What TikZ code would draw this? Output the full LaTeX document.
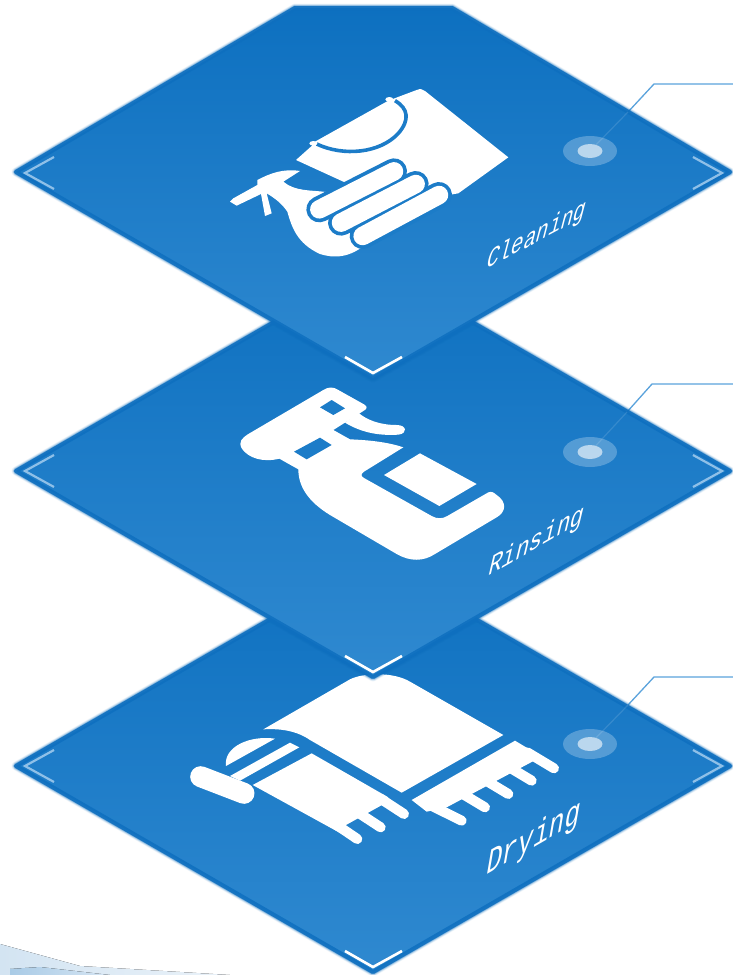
\documentclass[tikz,border=0pt]{standalone}
\usepackage{fontspec}
\usetikzlibrary{shapes.geometric}
\newfontfamily\labelfont{Liberation Mono}
\definecolor{plateTop}{HTML}{0D70C0}
\definecolor{plateBot}{HTML}{2F89D0}
\definecolor{edgeblue}{HTML}{0E6FBF}
\definecolor{iconblue}{HTML}{1C7CC8}
\definecolor{leader}{HTML}{5BA3DC}
\definecolor{chev}{HTML}{8FC0E8}
\definecolor{wedgeA}{HTML}{D3E4F2}
\definecolor{wedgeB}{HTML}{EAF2F9}
\definecolor{wedgeC}{HTML}{A9CBE6}
\definecolor{wedgeD}{HTML}{D5E5F3}
\tikzset{
  fadeedge/.style 2 args={preaction={draw=edgeblue,line join=round,line width=#1,draw opacity=#2}},
  plate/.style={top color=plateTop,bottom color=plateBot,line join=round,
    fadeedge={9pt}{.05},fadeedge={8pt}{.08},fadeedge={7pt}{.12},
    fadeedge={6pt}{.18},fadeedge={5pt}{.28},fadeedge={4pt}{.40},
    postaction={draw=edgeblue,line join=round,line width=4pt,draw opacity=.85}},
  sidechev/.style={draw=chev,line width=2.2pt},
  botchev/.style={draw=white,line width=2.6pt},
  halo/.style={ellipse,fill=white,fill opacity=.25,draw=none,minimum width=54pt,minimum height=30pt,inner sep=0pt},
  core/.style={ellipse,fill=white,fill opacity=.6,draw=none,minimum width=25pt,minimum height=14pt,inner sep=0pt},
  leadline/.style={draw=leader,line width=1.3pt},
  leadfaint/.style={draw=white,draw opacity=.12,line width=1.2pt},
  isotext/.style={transform shape,text=white,anchor=base west,inner sep=0pt,font=\labelfont\fontsize{20}{20}\selectfont},
  icon/.style={fill=white,draw=none},
  gap/.style={draw=iconblue,line cap=round},
  stick/.style={draw=white,line cap=round,line width=10pt},
  zoomed/.style={x=.33333pt,y=-.33333pt}
}
\begin{document}
\begin{tikzpicture}[x=1pt,y=-1pt]
\useasboundingbox (0,0) rectangle (733,975);
\clip (0,0) rectangle (733,975);
\fill[white] (0,0) rectangle (733,975);
% corner wedge
\fill[left color=wedgeA,right color=wedgeB] (0,944) -- (80,966) -- (230,975) -- (0,975) -- cycle;
\fill[left color=wedgeC,right color=wedgeD] (10,969) -- (40,967) -- (110,975) -- (10,975) -- cycle;

% ---- plate 3
\coordinate (bend3) at (654,677); \coordinate (end3) at (733,677); \coordinate (cross3) at (628,705);
\draw[leadline] (cross3) -- (bend3) -- (end3);
\path[plate] (16,766) -- (373,560) -- (730,766) -- (373,972) -- cycle;
\draw[sidechev] (54,750) -- (25,766) -- (54,782);
\draw[sidechev] (693,750) -- (722,766) -- (693,782);
\draw[botchev] (345,951) -- (373,967) -- (402,951);
\node[halo] (halo3) at (590,744) {};
\node[core] (dot3) at (590,744) {};
\draw[leadfaint] (dot3) -- (cross3);
\begin{scope}[shift={(170,660)},zoomed]
  \fill[icon] (280,208) -- (540,58) .. controls (580,38) and (670,35) .. (720,65) -- (1000,225) -- (695,398) -- (420,240) .. controls (380,212) and (330,205) .. (280,208) -- cycle;
  \fill[icon] (725,420) -- (1035,242) -- (1115,290) -- (830,442) -- (770,455) -- cycle;
  \foreach \a/\b/\c/\d in {760/425/875/482, 865/394/945/442, 935/354/1015/402, 1005/314/1085/362, 1072/277/1152/325}
    \draw[stick] (\a,\b) -- (\c,\d);
  \fill[icon] (248,375) -- (425,280) -- (655,412) -- (645,430) -- (510,505) -- (512,520) -- cycle;
  \foreach \a/\b/\c/\d in {490/488/562/537, 560/455/632/502, 630/415/702/462}
    \draw[stick] (\a,\b) -- (\c,\d);
  \fill[icon] (180,348) -- (360,248) -- (388,262) -- (210,362) -- cycle;
  \draw[stick,line width=21pt] (92,350) -- (222,400);
  \fill[icon] (168,318) .. controls (160,260) and (240,225) .. (315,236) -- cycle;
\end{scope}
\begin{scope}[cm={1.3,.75,.32,1.85,(485,876)}]
  \node[isotext] (drying) at (0,0) {Drying};
\end{scope}

% ---- plate 2
\coordinate (bend2) at (652,384); \coordinate (end2) at (733,384); \coordinate (cross2) at (627,412);
\draw[leadline] (cross2) -- (bend2) -- (end2);
\path[plate] (16,471) -- (373,265) -- (730,471) -- (373,677) -- cycle;
\draw[sidechev] (54,455) -- (25,471) -- (54,487);
\draw[sidechev] (693,455) -- (722,471) -- (693,487);
\draw[botchev] (345,656) -- (373,672) -- (402,656);
\node[halo] (halo2) at (590,452) {};
\node[core] (dot2) at (590,452) {};
\draw[leadfaint] (dot2) -- (cross2);
\begin{scope}[shift={(220,370)},zoomed]
  \fill[icon] (310,60) .. controls (325,50) and (340,50) .. (355,60) -- (432,103) .. controls (445,110) and (440,118) .. (430,123)
    -- (340,180) -- (390,208) .. controls (440,210) and (500,215) .. (550,232) -- (432,305) .. controls (422,312) and (422,318) .. (432,324)
    -- (635,438) .. controls (650,447) and (668,447) .. (682,438) -- (805,367) .. controls (815,363) and (822,368) .. (830,375)
    .. controls (860,395) and (860,425) .. (830,442) -- (645,552) .. controls (610,575) and (570,575) .. (530,552)
    -- (330,435) .. controls (265,395) and (235,350) .. (235,298) -- (178,266) .. controls (130,278) and (85,265) .. (65,235)
    .. controls (55,215) and (65,205) .. (85,192) -- cycle;
  \fill[icon] (415,128) .. controls (440,150) and (480,165) .. (530,165) .. controls (560,165) and (565,190) .. (535,194)
    .. controls (470,198) and (420,185) .. (375,158) -- cycle;
  \fill[iconblue] (300,112) -- (335,90) -- (375,115) -- (340,135) -- cycle;
  \fill[iconblue] (222,245) -- (300,203) -- (335,225) -- (260,268) -- cycle;
  \fill[icon] (492,315) -- (600,250) -- (770,342) -- (658,408) -- cycle;
\end{scope}
\begin{scope}[cm={1.13,.65,.36,1.5,(487,577)}]
  \node[isotext] (rinsing) at (0,0) {Rinsing};
\end{scope}

% ---- plate 1
\coordinate (bend1) at (654,84); \coordinate (end1) at (733,84); \coordinate (cross1) at (628,112);
\draw[leadline] (cross1) -- (bend1) -- (end1);
\path[plate] (16,172) -- (295,8) -- (452,8) -- (730,172) -- (373,378) -- cycle;
\draw[sidechev] (54,157) -- (25,173) -- (54,189);
\draw[sidechev] (693,157) -- (722,173) -- (693,189);
\draw[botchev] (345,357) -- (373,373) -- (402,357);
\node[halo] (halo1) at (590,151) {};
\node[core] (dot1) at (590,151) {};
\draw[leadfaint] (dot1) -- (cross1);
\begin{scope}[shift={(200,70)},zoomed]
  % cloth
  \fill[icon] (288,270) -- (335,228) -- (345,215) -- (565,92) -- (650,60) .. controls (662,55) and (668,58) .. (675,63)
    -- (925,262) -- (775,370) -- (600,400) -- (430,335) -- cycle;
  \draw[gap,line width=3.6pt,line cap=butt] (350,222) .. controls (430,260) and (540,250) .. (595,190) .. controls (630,150) and (625,115) .. (585,92);
  \fill[icon] (340,220) ellipse [x radius=12,y radius=7];
  \fill[icon] (568,88) ellipse [x radius=12,y radius=7];
  % bottle
  \fill[icon] (172,330) .. controls (210,310) and (250,295) .. (300,303) -- (250,335) .. controls (285,365) and (335,360) .. (378,366)
    -- (500,520) .. controls (450,565) and (400,565) .. (360,552) .. controls (290,520) and (275,470) .. (262,425) .. controls (245,400) and (225,385) .. (200,370)
    -- (215,430) -- (195,438) -- (183,372) -- (110,407) -- (90,395) -- (100,385) -- (172,345) -- cycle;
  % fingers
  \foreach \a/\b/\c/\d in {358/418/582/304, 423/458/647/342, 488/498/717/375}
    \draw[gap,line width=26pt] (\a,\b) -- (\c,\d);
  \foreach \a/\b/\c/\d in {358/418/582/304, 423/458/647/342, 488/498/717/375}
    \draw[stick,line width=18.5pt] (\a,\b) -- (\c,\d);
\end{scope}
\begin{scope}[cm={1.03,.55,.38,1.45,(485,270)}]
  \node[isotext] (cleaning) at (0,0) {Cleaning};
\end{scope}
\end{tikzpicture}
\end{document}
